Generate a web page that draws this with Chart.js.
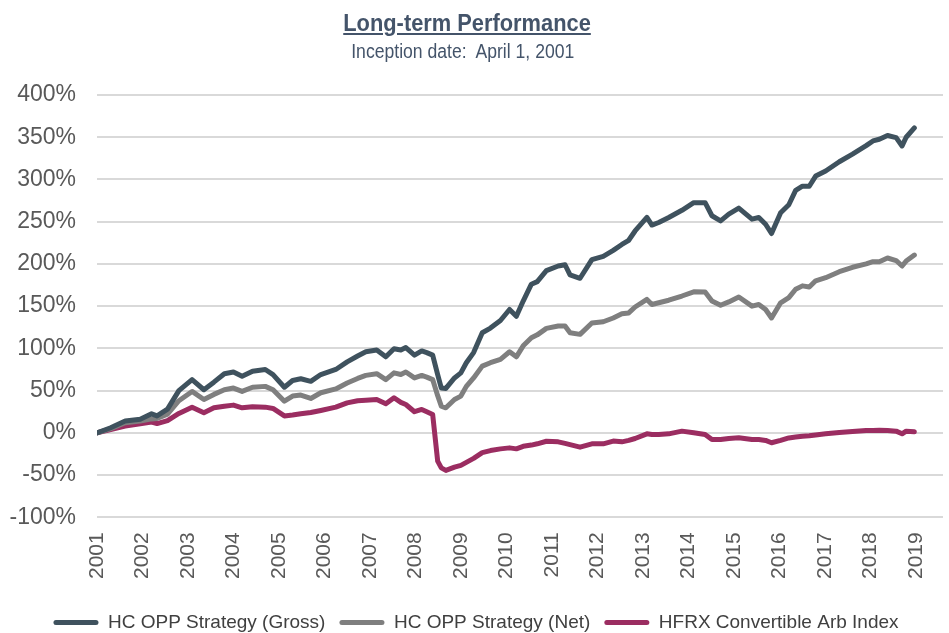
<!DOCTYPE html>
<html>
<head>
<meta charset="utf-8">
<script src="https://cdn.jsdelivr.net/npm/chart.js@4/dist/chart.umd.min.js"></script>
<style>
  html, body { margin: 0; padding: 0; background: #fff; }
  #wrap { position: relative; width: 949px; height: 633px; }
  #title { position: absolute; left: 0; width: 934px; top: 9px; text-align: center;
    font-family: 'Liberation Sans', Arial, sans-serif;
    font-weight: bold; font-size: 24px; color: #44546a; }
  #title span { display: inline-block; transform: scaleX(0.91); text-decoration: underline; }
  #subtitle { position: absolute; left: 0; width: 926px; top: 40px; text-align: center;
    font-family: 'Liberation Sans', Arial, sans-serif;
    font-size: 20px; color: #44546a; }
  #subtitle span { display: inline-block; transform: scaleX(0.88); }
</style>
</head>
<body>
<div id="wrap">
  <canvas id="chart" width="949" height="633"></canvas>
  <div id="title"><span>Long-term Performance</span></div>
  <div id="subtitle"><span>Inception date:&nbsp; April 1, 2001</span></div>
</div>
<script>
'use strict';

// decimal-year positions of the readings (inception April 1, 2001)
var dates = [
  2001.00, 2001.30, 2001.62, 2001.95, 2002.20, 2002.32, 2002.55, 2002.80, 2003.09, 2003.35,
  2003.57, 2003.80, 2004.00, 2004.19, 2004.42, 2004.70, 2004.87, 2005.12, 2005.30, 2005.48,
  2005.70, 2005.92, 2006.25, 2006.50, 2006.73, 2006.91, 2007.15, 2007.35, 2007.53, 2007.68,
  2007.79, 2007.98, 2008.14, 2008.25, 2008.38, 2008.49, 2008.57, 2008.67, 2008.86, 2009.00,
  2009.12, 2009.28, 2009.47, 2009.65, 2009.87, 2010.07, 2010.22, 2010.37, 2010.55, 2010.68,
  2010.88, 2011.14, 2011.29, 2011.40, 2011.62, 2011.88, 2012.13, 2012.35, 2012.54, 2012.69,
  2012.83, 2013.09, 2013.20, 2013.35, 2013.57, 2013.86, 2014.12, 2014.37, 2014.52, 2014.71,
  2014.89, 2015.11, 2015.40, 2015.55, 2015.70, 2015.83, 2016.03, 2016.21, 2016.36, 2016.51,
  2016.66, 2016.80, 2017.02, 2017.32, 2017.61, 2017.91, 2018.06, 2018.20, 2018.38, 2018.57,
  2018.70, 2018.79, 2018.97
];

var grossValues = [
  0, 6, 14, 16, 22.5, 20, 28, 50, 63, 51,
  60, 70, 72, 67, 73, 75, 69, 54, 62, 64,
  61, 69, 75, 84, 91, 96, 98, 90, 99.5, 98,
  101, 92, 97, 95, 92, 69, 53, 52.6, 65, 71,
  83, 95, 118.5, 124, 133, 146, 138, 156, 176, 179,
  192, 197.5, 199, 187, 183, 205, 209, 216, 223, 228,
  239, 255, 246, 249, 255, 263.5, 272.5, 272.5, 257, 251,
  259, 266, 253, 255, 247, 236, 260.5, 270, 287, 292,
  292, 304, 310, 321, 330, 340, 345.6, 347.6, 352, 349.5,
  339.7, 350, 361
];

var netValues = [
  0, 5, 12, 14, 16.5, 17, 22, 38, 49, 39.5,
  45.5, 51, 53, 49, 54, 55, 51, 37.5, 43.5, 44.7,
  40.7, 47.4, 52, 59, 64.4, 68, 70, 63, 71, 69,
  72, 65, 68, 66, 63, 44, 31.6, 29.6, 39.5, 43.5,
  55, 65, 79, 83, 87, 96, 90, 103, 112.5, 116,
  123.7, 126.4, 126.4, 118.5, 116.6, 130, 131.5, 136, 141, 142,
  149, 158, 152, 154, 157, 162, 167, 166.7, 156, 151,
  155, 160.8, 150, 152, 146, 136, 154, 160, 170, 174,
  172.6, 180, 183.7, 190.8, 196, 200, 202.6, 202.6, 207, 204,
  197.5, 203.4, 210.5
];

var hfrxValues = [
  0, 4, 8, 10.7, 12.7, 11, 14.5, 23, 30.4, 23.7,
  29.6, 31.5, 32.8, 29.6, 31, 30.4, 28.9, 20, 21, 22.5,
  24, 26.5, 30.4, 35.5, 38, 38.7, 39.5, 34.4, 41.5, 36,
  33.5, 25, 27.7, 25, 21.8, -33.5, -41.5, -44.5, -40.6, -38.5,
  -35, -30.3, -23.5, -21, -19, -17.8, -19, -16, -14.5, -13,
  -10, -10.7, -12.5, -14, -17, -13, -13, -9.8, -10.7, -9,
  -6.7, -1.2, -2, -2, -1.2, 2, 0, -2, -8, -8,
  -6.6, -5.9, -7.9, -7.9, -9, -11.8, -9, -6, -5, -4,
  -3.5, -2.5, -1.2, 0.5, 1.5, 2.8, 2.8, 3, 2.8, 2,
  -1.2, 2, 1.2
];

var seriesNames = ['HC OPP Strategy (Gross)', 'HC OPP Strategy (Net)', 'HFRX Convertible Arb Index'];
var seriesColors = ['#3f525e', '#7f7f7f', '#9b2d61'];
var yearTicks = [2001, 2002, 2003, 2004, 2005, 2006, 2007, 2008, 2009, 2010,
  2011, 2012, 2013, 2014, 2015, 2016, 2017, 2018, 2019];
var pctTicks = [-100, -50, 0, 50, 100, 150, 200, 250, 300, 350, 400];

function toPoints(values) {
  return values.map((v, i) => ({ x: dates[i], y: v }));
}

var allValues = [grossValues, netValues, hfrxValues];
var datasets = allValues.map((vals, i) => ({
  label: seriesNames[i],
  data: toPoints(vals),
  borderColor: seriesColors[i],
  backgroundColor: seriesColors[i],
  borderWidth: 5,
  pointRadius: 0,
  tension: 0,
  borderCapStyle: 'round',
  borderJoinStyle: 'round'
}));

var sans = "'Liberation Sans', Arial, sans-serif";

new Chart(document.getElementById('chart').getContext('2d'), {
  type: 'line',
  data: { datasets: datasets },
  options: {
    responsive: false,
    animation: false,
    layout: { padding: { top: 95, left: 9, right: 6, bottom: -9 } },
    plugins: {
      tooltip: { enabled: false },
      legend: {
        position: 'bottom',
        labels: {
          font: { family: sans, size: 19 },
          color: '#404040',
          boxWidth: 45,
          boxHeight: 5,
          padding: 14,
          useBorderRadius: true,
          borderRadius: 2.5,
          generateLabels: chart => Chart.defaults.plugins.legend.labels.generateLabels(chart)
            .map(l => Object.assign(l, { lineWidth: 0, fillStyle: l.strokeStyle }))
        }
      }
    },
    scales: {
      x: {
        type: 'linear',
        min: 2001,
        max: 2019.6,
        afterBuildTicks: axis => { axis.ticks = yearTicks.map(v => ({ value: v })); },
        afterFit: axis => { axis.height += 13; },
        grid: { display: false },
        border: { display: false },
        ticks: {
          minRotation: 90,
          maxRotation: 90,
          padding: 7,
          color: '#595959',
          font: { family: sans, size: 21 },
          callback: v => String(v)
        }
      },
      y: {
        min: -100,
        max: 400,
        afterBuildTicks: axis => { axis.ticks = pctTicks.map(v => ({ value: v })); },
        afterFit: axis => { axis.width = 88; },
        grid: { color: '#d9d9d9', lineWidth: 2, drawTicks: false },
        border: { display: false },
        ticks: {
          padding: 21,
          color: '#595959',
          font: { family: sans, size: 23 },
          callback: v => v + '%'
        }
      }
    }
  }
});
</script>
</body>
</html>
